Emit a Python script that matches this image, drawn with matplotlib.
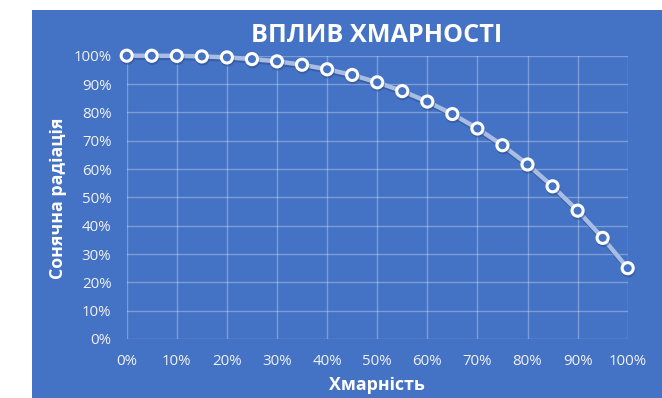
import numpy as np
import matplotlib.pyplot as plt
import matplotlib.patheffects as pe
from matplotlib.patches import Rectangle
from matplotlib.ticker import PercentFormatter

# cloudiness (fraction) and relative solar radiation
cloud = [0.00, 0.05, 0.10, 0.15, 0.20, 0.25, 0.30, 0.35, 0.40, 0.45, 0.50,
         0.55, 0.60, 0.65, 0.70, 0.75, 0.80, 0.85, 0.90, 0.95, 1.00]
radiation = [1.000, 0.9999, 0.9994, 0.9975, 0.994, 0.988, 0.980, 0.968, 0.952,
             0.932, 0.906, 0.875, 0.838, 0.794, 0.743, 0.684, 0.616, 0.539,
             0.453, 0.357, 0.250]

title = "ВПЛИВ ХМАРНОСТІ"
xlabel = "Хмарність"
ylabel = "Сонячна радіація"

blue = "#4472C4"
text_c = "#F2F2F2"
plt.rcParams['font.family'] = ['Open Sans', 'DejaVu Sans']

fig = plt.figure(figsize=(6.62, 3.98), dpi=100)
fig.patch.set_facecolor("white")
# chart area background
bg = Rectangle((32 / 662, 0), 630 / 662, 388 / 398,
               transform=fig.transFigure, facecolor=blue,
               edgecolor="none", zorder=-10)
fig.add_artist(bg)

ax = fig.add_axes([126.7 / 662, 59 / 398, 501 / 662, 283.3 / 398])
ax.set_facecolor(blue)

ax.plot(cloud, radiation, color="#A8BDE3", lw=3.2, solid_capstyle="round",
        marker="o", ms=8, mfc=blue, mec="white", mew=2.2, zorder=3,
        clip_on=False,
        path_effects=[pe.SimpleLineShadow(offset=(0.5, -1.5), shadow_color="#2B4C8C", alpha=0.5),
                      pe.Normal()])

ax.set_xlim(0, 1)
ax.set_ylim(0, 1)
ax.set_xticks(np.arange(0, 1.01, 0.1))
ax.set_yticks(np.arange(0, 1.01, 0.1))
ax.xaxis.set_major_formatter(PercentFormatter(1.0, decimals=0))
ax.yaxis.set_major_formatter(PercentFormatter(1.0, decimals=0))
ax.grid(True, color="white", alpha=0.3, lw=1)
ax.set_axisbelow(True)
for s in ax.spines.values():
    s.set_visible(False)
ax.tick_params(length=0, colors=text_c, labelsize=10.8)
ax.tick_params(axis="x", pad=11)
ax.tick_params(axis="y", pad=11)

fig.text(377 / 662, 1 - 36 / 398, title, color="white", fontsize=18.2,
         fontweight="bold", ha="center", va="center")
fig.text(377 / 662, 1 - 385 / 398, xlabel, color="white", fontsize=12.8,
         fontweight="bold", ha="center", va="center")
fig.text(58 / 662, 1 - 198 / 398, ylabel, color="white", fontsize=12.8,
         fontweight="bold", ha="center", va="center", rotation=90)

fig.savefig("out.png", dpi=100)
